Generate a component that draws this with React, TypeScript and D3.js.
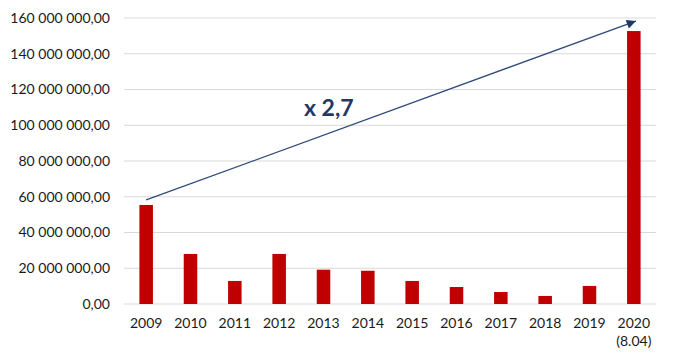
import React from "react";
import * as d3 from "d3";

const categories = ["2009", "2010", "2011", "2012", "2013", "2014", "2015", "2016", "2017", "2018", "2019", "2020"];
const subLabels = ["", "", "", "", "", "", "", "", "", "", "", "(8.04)"];
const values = [55400000, 28000000, 12900000, 28000000, 19200000, 18600000, 12900000, 9500000, 6700000, 4500000, 10100000, 152700000];
const yTicks = [0, 20000000, 40000000, 60000000, 80000000, 100000000, 120000000, 140000000, 160000000];
const annotation = "x 2,7";

const W = 675, H = 356;
const left = 124, right = 656, top = 18, bottom = 304;

function fmt(v: number): string {
  const s = Math.round(v).toString().replace(/\B(?=(\d{3})+(?!\d))/g, " ");
  return s + ",00";
}

export default function App() {
  const x = d3.scaleBand<string>().domain(categories).range([left, right]).paddingInner(0.695).paddingOuter(0.3475);
  const y = d3.scaleLinear().domain([0, 160000000]).range([bottom, top]);
  const font = "Lato, 'Open Sans', sans-serif";
  const bw = x.bandwidth();
  const startX = (x("2009") as number) + bw / 2;
  const startY = y(values[0]) - 5;
  const endX = (x("2020") as number) + bw / 2 + 2;
  const endY = y(158300000);
  return (
    <svg width={W} height={H} style={{ position: "absolute", left: 0, top: 0 }}>
      <defs>
        <marker id="ah" viewBox="0 0 10 10" refX="10" refY="5" markerWidth="8" markerHeight="7" orient="auto">
          <path d="M0,0 L10,5 L0,10 z" fill="#1F3864" />
        </marker>
      </defs>
      {yTicks.map((t) => (
        <g key={t}>
          <line x1={left} x2={right} y1={y(t)} y2={y(t)} stroke="#D9D9D9" strokeWidth={1} />
          <text x={110} y={y(t)} dy="0.35em" textAnchor="end" fontFamily={font} fontSize={14} fill="#1a1a1a">
            {fmt(t)}
          </text>
        </g>
      ))}
      {categories.map((c, i) => (
        <rect key={c} x={x(c)} y={y(values[i])} width={bw} height={bottom - y(values[i])} fill="#C00000" />
      ))}
      {categories.map((c, i) => (
        <g key={"l" + c}>
          <text x={(x(c) as number) + bw / 2} y={328} textAnchor="middle" fontFamily={font} fontSize={14} fill="#1a1a1a">
            {c}
          </text>
          {subLabels[i] && (
            <text x={(x(c) as number) + bw / 2} y={346} textAnchor="middle" fontFamily={font} fontSize={14} fill="#1a1a1a">
              {subLabels[i]}
            </text>
          )}
        </g>
      ))}
      <line x1={startX} y1={startY} x2={endX} y2={endY} stroke="#2F4A7A" strokeWidth={1.3} markerEnd="url(#ah)" />
      <text x={304} y={116} fontFamily={font} fontWeight="bold" fontSize={23} fill="#1F3864">
        {annotation}
      </text>
    </svg>
  );
}
